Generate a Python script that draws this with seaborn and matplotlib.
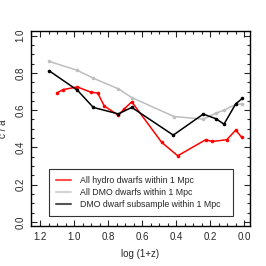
import matplotlib
matplotlib.use("Agg")
import matplotlib.pyplot as plt
import seaborn as sns
import pandas as pd
from matplotlib.ticker import MultipleLocator
from matplotlib.lines import Line2D

# Data
hydro_x = [1.102, 1.063, 0.981, 0.902, 0.861, 0.822, 0.740, 0.705, 0.661,
           0.485, 0.391, 0.227, 0.188, 0.103, 0.050, 0.015]
hydro_y = [0.692, 0.711, 0.725, 0.697, 0.692, 0.622, 0.573, 0.607, 0.645,
           0.427, 0.355, 0.441, 0.432, 0.441, 0.493, 0.454]

dmo_x = [1.145, 0.980, 0.887, 0.740, 0.661, 0.413, 0.241, 0.166, 0.119, 0.050, 0.012]
dmo_y = [0.862, 0.814, 0.772, 0.715, 0.668, 0.566, 0.552, 0.584, 0.600, 0.631, 0.634]

sub_x = [1.145, 0.980, 0.887, 0.740, 0.661, 0.417, 0.241, 0.166, 0.119, 0.050, 0.012]
sub_y = [0.811, 0.707, 0.615, 0.580, 0.615, 0.466, 0.579, 0.554, 0.525, 0.634, 0.663]

labels = ["All hydro dwarfs within 1 Mpc",
          "All DMO dwarfs within 1 Mpc",
          "DMO dwarf subsample within 1 Mpc"]
colors = ["#ff0000", "#bebebe", "#000000"]
legend_colors = ["#ff5050", "#d3d3d3", "#555555"]

sns.set_style("ticks")
plt.rcParams["font.family"] = ["Liberation Sans", "DejaVu Sans"]

fig = plt.figure(figsize=(2.66, 2.66), dpi=100)
ax = fig.add_axes([0.1165, 0.150, 0.8235, 0.733])

series = [(hydro_x, hydro_y), (dmo_x, dmo_y), (sub_x, sub_y)]
for (xs, ys), lab, col in zip(series, labels, colors):
    df = pd.DataFrame({"logz": xs, "ca": ys})
    sns.lineplot(data=df, x="logz", y="ca", ax=ax, color=col, lw=1.1,
                 marker="o", markersize=2.6, markeredgewidth=0,
                 sort=False, estimator=None)

# gray drawn below the others
for line in ax.get_lines():
    if line.get_color() == "#bebebe":
        line.set_zorder(1)

ax.set_xlim(1.253, -0.034)
ax.set_ylim(-0.023, 1.025)
ax.xaxis.set_major_locator(MultipleLocator(0.2))
ax.xaxis.set_minor_locator(MultipleLocator(0.05))
ax.yaxis.set_major_locator(MultipleLocator(0.2))
ax.yaxis.set_minor_locator(MultipleLocator(0.05))
ax.tick_params(which="both", direction="in", top=True, right=True,
               labelsize=7, width=0.8, pad=4)
ax.tick_params(which="major", length=4)
ax.tick_params(which="minor", length=2)
for lbl in ax.get_yticklabels():
    lbl.set_rotation(90)
    lbl.set_va("center")
for sp in ax.spines.values():
    sp.set_linewidth(1.0)
    sp.set_color("black")

ax.set_xlabel("log (1+z)", fontsize=7, labelpad=5)
ax.set_ylabel("c / a", fontsize=7, labelpad=5)

handles = [Line2D([0], [0], color=c, lw=1.5) for c in legend_colors]
leg = ax.legend(handles, labels, loc="lower left",
                bbox_to_anchor=(0.06, 0.027, 0.88, 0.236), mode="expand",
                fontsize=6.3, frameon=True, fancybox=False, handlelength=1.8,
                borderpad=0.8, labelspacing=0.35, handletextpad=1.0)
leg.get_frame().set_edgecolor("black")
leg.get_frame().set_linewidth(0.8)

fig.savefig("out.png", dpi=100)
